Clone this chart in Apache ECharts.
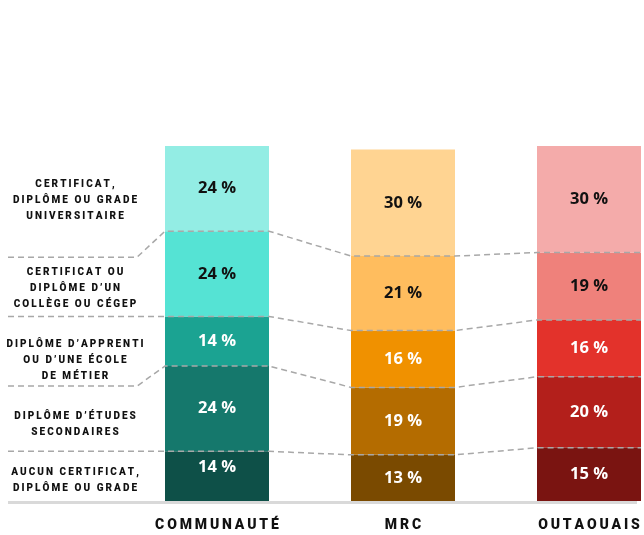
<!DOCTYPE html>
<html>
<head>
<meta charset="utf-8">
<script src="https://cdn.jsdelivr.net/npm/echarts@6/dist/echarts.min.js"></script>
<style>
  html, body { margin: 0; padding: 0; background: #fff; }
  #chart { width: 644px; height: 535px; }
</style>
</head>
<body>
<div id="chart"></div>
<script>
// données
var categories = ['COMMUNAUTÉ', 'MRC', 'OUTAOUAIS'];
var levels = [
    'AUCUN CERTIFICAT,\nDIPLÔME OU GRADE',
    'DIPLÔME D’ÉTUDES\nSECONDAIRES',
    'DIPLÔME D’APPRENTI\nOU D’UNE ÉCOLE\nDE MÉTIER',
    'CERTIFICAT OU\nDIPLÔME D’UN\nCOLLÈGE OU CÉGEP',
    'CERTIFICAT,\nDIPLÔME OU GRADE\nUNIVERSITAIRE'
];
var aucun = [14, 13, 15];
var secondaire = [24, 19, 20];
var apprenti = [14, 16, 16];
var college = [24, 21, 19];
var universite = [24, 30, 30];

// couleurs (du bas vers le haut) pour chaque barre
var palettes = [
    ['#0e5048', '#15786c', '#1ba392', '#55e3d4', '#93ede4'],
    ['#7a4a00', '#b46c00', '#f09100', '#ffbd5e', '#ffd492'],
    ['#7a1411', '#b31f1b', '#e3322b', '#ef817b', '#f4abaa']
];
var labelColors = ['#fff', '#fff', '#fff', '#111', '#111'];
// décalage des traits de gauche (sous les libellés)
var stubShift = [0, 20, 0, 26];
var labelCenters = [480, 424, 360, 288, 200];

var stacks = [aucun, secondaire, apprenti, college, universite];

function spaced(s) {
    return s.split('\n').map(function (l) {
        return Array.from(l).join('\u2009');
    }).join('\n');
}

function cumul(i, k) {
    var t = 0;
    for (var j = 0; j < k; j++) t += stacks[j][i];
    return t;
}

var chart = echarts.init(document.getElementById('chart'));

var series = stacks.map(function (vals, s) {
    return {
        name: levels[s],
        type: 'bar',
        stack: 'total',
        barWidth: 104,
        z: 2,
        data: vals.map(function (v, i) {
            var item = { value: v, itemStyle: { color: palettes[i][s] } };
            // l'étiquette du bas de la communauté est remontée
            if (s === 0 && i === 0) item.label = { offset: [0, -9] };
            return item;
        }),
        label: {
            show: true,
            position: 'inside',
            formatter: '{c} %',
            color: labelColors[s],
            fontFamily: 'Open Sans',
            fontWeight: 'bold',
            fontSize: 16.5
        }
    };
});

series.push({
    type: 'custom',
    clip: false,
    z: 5,
    silent: true,
    data: [[0, 1], [0, 2], [0, 3], [0, 4]],
    renderItem: function (params, api) {
        var k = api.value(1);
        var pts = [];
        var ps = categories.map(function (c, i) { return api.coord([i, cumul(i, k)]); });
        var sy = ps[0][1] + stubShift[k - 1];
        pts.push([8, sy]);
        pts.push([137, sy]);
        ps.forEach(function (p) {
            pts.push([p[0] - 52, p[1]]);
            pts.push([p[0] + 52, p[1]]);
        });
        return {
            type: 'polyline',
            shape: { points: pts },
            style: { fill: null, stroke: '#a8a8a8', lineWidth: 1.5, lineDash: [6, 4] }
        };
    }
});

var graphics = [{
    type: 'rect',
    shape: { x: 8, y: 501, width: 629, height: 3 },
    style: { fill: '#d9d9d9' },
    z: 1
}];
levels.forEach(function (l, s) {
    graphics.push({
        type: 'text',
        x: 75,
        y: labelCenters[s],
        style: {
            text: spaced(l),
            fill: '#111',
            font: '900 10px Roboto',
            lineHeight: 16,
            align: 'center',
            verticalAlign: 'middle'
        }
    });
});

var option = {
    animation: false,
    grid: { left: 124, width: 558, top: 146, bottom: 34, outerBoundsMode: 'none' },
    xAxis: {
        type: 'category',
        data: categories,
        axisLine: { show: false },
        axisTick: { show: false },
        axisLabel: {
            margin: 17,
            color: '#111',
            fontFamily: 'Roboto',
            fontWeight: 900,
            fontSize: 14,
            formatter: function (v) { return spaced(v); }
        }
    },
    yAxis: {
        type: 'value',
        min: 0,
        max: 100,
        show: false,
        splitLine: { show: false }
    },
    graphic: graphics,
    series: series
};
chart.setOption(option);
</script>
</body>
</html>
